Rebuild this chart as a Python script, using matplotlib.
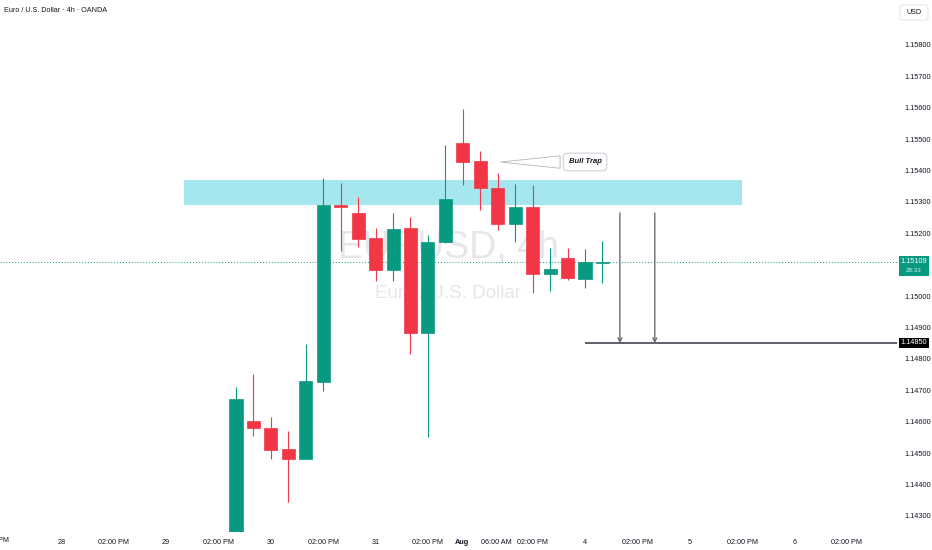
import numpy as np
import matplotlib
matplotlib.use("Agg")
import matplotlib.pyplot as plt
from matplotlib.patches import Rectangle, FancyBboxPatch

plt.rcParams['font.family'] = ['Liberation Sans', 'DejaVu Sans']

# 4h candles, EUR/USD
opens = [1.14220, 1.14603, 1.14581, 1.14512, 1.14483, 1.14727, 1.15290, 1.15264,
         1.15184, 1.15084, 1.15216, 1.14884, 1.15174, 1.15489, 1.15430, 1.15345,
         1.15229, 1.15284, 1.15072, 1.15122, 1.15055, 1.15105]
highs = [1.14711, 1.14753, 1.14614, 1.14571, 1.14848, 1.15376, 1.15362, 1.15315,
         1.15216, 1.15266, 1.15253, 1.15194, 1.15482, 1.15595, 1.15463, 1.15393,
         1.15357, 1.15354, 1.15155, 1.15155, 1.15150, 1.15175]
lows = [1.14180, 1.14556, 1.14483, 1.14346, 1.14480, 1.14699, 1.15144, 1.15158,
        1.15048, 1.15048, 1.14817, 1.14553, 1.15170, 1.15355, 1.15276, 1.15211,
        1.15174, 1.15009, 1.15018, 1.15051, 1.15026, 1.15043]
closes = [1.14673, 1.14581, 1.14510, 1.14483, 1.14729, 1.15290, 1.15283, 1.15182,
          1.15084, 1.15215, 1.14884, 1.15174, 1.15309, 1.15426, 1.15345, 1.15231,
          1.15284, 1.15071, 1.15087, 1.15058, 1.15108, 1.15109]

# time axis labels (bar index positions)
time_pos = [-10, -7, -4, -1, 2, 5, 8, 11, 12.95, 14.9, 17, 20, 23, 26, 29, 32, 35]
time_labels = ['28', '02:00 PM', '29', '02:00 PM', '30', '02:00 PM', '31', '02:00 PM',
               'Aug', '06:00 AM', '02:00 PM', '4', '02:00 PM', '5', '02:00 PM', '6', '02:00 PM']
# 1.15100 sits under the last-price box, so it is not shown
price_ticks = [1.143, 1.144, 1.145, 1.146, 1.147, 1.148, 1.149, 1.150,
               1.152, 1.153, 1.154, 1.155, 1.156, 1.157, 1.158]

last_price = 1.15109
countdown = '28:33'
target_price = 1.14850
zone_low, zone_high = 1.15290, 1.15370
zone_start, zone_end = -3, 29
arrow_bars = [22, 24]
arrow_top = 1.15265
callout_tip = (15.0, 1.15427)
callout_text_pos = (20.0, 1.154274)

GREEN = '#089981'
RED = '#f23645'
TXT = '#131722'

fig = plt.figure(figsize=(9.32, 5.5), dpi=100)
ax = fig.add_axes([0, 18 / 550, 897 / 932, 532 / 550])
ax.set_xlim(-13.524, 37.88)
ax.set_ylim(1.14249, 1.159433)
for s in ax.spines.values():
    s.set_visible(False)

# watermark
ax.text(0.5, 0.533, 'EURUSD, 4h', transform=ax.transAxes, ha='center', va='center',
        fontsize=27, color='#e6e7ea', zorder=0)
ax.text(0.5, 0.449, 'Euro / U.S. Dollar', transform=ax.transAxes, ha='center', va='center',
        fontsize=13.5, color='#e6e7ea', zorder=0)

# resistance zone
ax.add_patch(Rectangle((zone_start, zone_low), zone_end - zone_start, zone_high - zone_low,
                       facecolor='#a6e7ef', edgecolor='none', zorder=1))

# candles
x = np.arange(len(opens))
o = np.array(opens)
c = np.array(closes)
cols = [GREEN if cc >= oo else RED for oo, cc in zip(o, c)]
ax.vlines(x, lows, highs, colors=cols, linewidth=0.8, zorder=2)
heights = np.maximum(np.abs(c - o), 0.00004)
ax.bar(x, heights, bottom=np.minimum(o, c), width=0.75, color=cols, edgecolor=cols,
       linewidth=0.5, zorder=3)

# last price dotted line
ax.axhline(last_price, color=GREEN, linestyle=(0, (1, 2)), linewidth=0.7, zorder=1)

# target line and arrows
ax.hlines(target_price, 20, ax.get_xlim()[1], color='#50535e', linewidth=1.3, zorder=2)
for b in arrow_bars:
    ax.annotate('', xy=(b, target_price), xytext=(b, arrow_top),
                arrowprops=dict(arrowstyle='->', color='#6a6d78', lw=1.0,
                                shrinkA=0, shrinkB=0, mutation_scale=7), zorder=4)

# Bull Trap callout
ax.annotate('Bull Trap', xy=callout_tip, xytext=callout_text_pos,
            ha='center', va='center', fontsize=5.5, fontstyle='italic', fontweight='bold',
            color=TXT, zorder=5,
            bbox=dict(boxstyle='round,pad=0.7,rounding_size=0.6', fc='white', ec='#c9ccd4', lw=0.7),
            arrowprops=dict(arrowstyle='wedge,tail_width=0.9,shrink_factor=0.5',
                            fc='white', ec='#b2b5be', lw=0.6, mutation_scale=10))

# axes ticks
ax.set_yticks(price_ticks)
ax.set_yticklabels([f'{p:.5f}' for p in price_ticks])
ax.tick_params(axis='y', left=False, right=False, labelleft=False, labelright=True,
               length=0, pad=5, labelsize=5.3, labelcolor=TXT)
ax.set_xticks(time_pos)
ax.set_xticklabels(time_labels)
ax.tick_params(axis='x', bottom=False, length=0, pad=5, labelsize=5.2, labelcolor=TXT)
for lbl in ax.get_xticklabels():
    if lbl.get_text() == 'Aug':
        lbl.set_fontweight('bold')
ax.text(-13.87, -0.0165, '02:00 PM', transform=ax.get_xaxis_transform(), ha='center',
        va='center', fontsize=5.2, color=TXT, clip_on=False)

# price label boxes on the scale
fig.patches.append(Rectangle((899 / 932, (550 - 276) / 550), 30 / 932, 20 / 550,
                             transform=fig.transFigure, facecolor=GREEN, edgecolor='none'))
fig.text(914 / 932, 1 - 261 / 550, f'{last_price:.5f}', ha='center', va='center',
         fontsize=5.3, color='white')
fig.text(914 / 932, 1 - 271 / 550, countdown, ha='center', va='center',
         fontsize=4.6, color='#d4f0ea')
fig.patches.append(Rectangle((899 / 932, (550 - 348) / 550), 30 / 932, 10.5 / 550,
                             transform=fig.transFigure, facecolor='black', edgecolor='none'))
fig.text(914 / 932, 1 - 342.8 / 550, f'{target_price:.5f}', ha='center', va='center',
         fontsize=5.3, color='white')

# currency box
fig.patches.append(FancyBboxPatch((900 / 932, (550 - 20) / 550), 28 / 932, 15 / 550,
                                  boxstyle='round,pad=0,rounding_size=0.004',
                                  transform=fig.transFigure, facecolor='white',
                                  edgecolor='#e0e3eb', linewidth=0.7))
fig.text(914 / 932, 1 - 12.5 / 550, 'USD', ha='center', va='center', fontsize=5.2, color=TXT)

# title
fig.text(4 / 932, 1 - 10 / 550, 'Euro / U.S. Dollar · 4h · OANDA', ha='left', va='center',
         fontsize=5.2, color=TXT)

fig.savefig('out.png', dpi=100)
